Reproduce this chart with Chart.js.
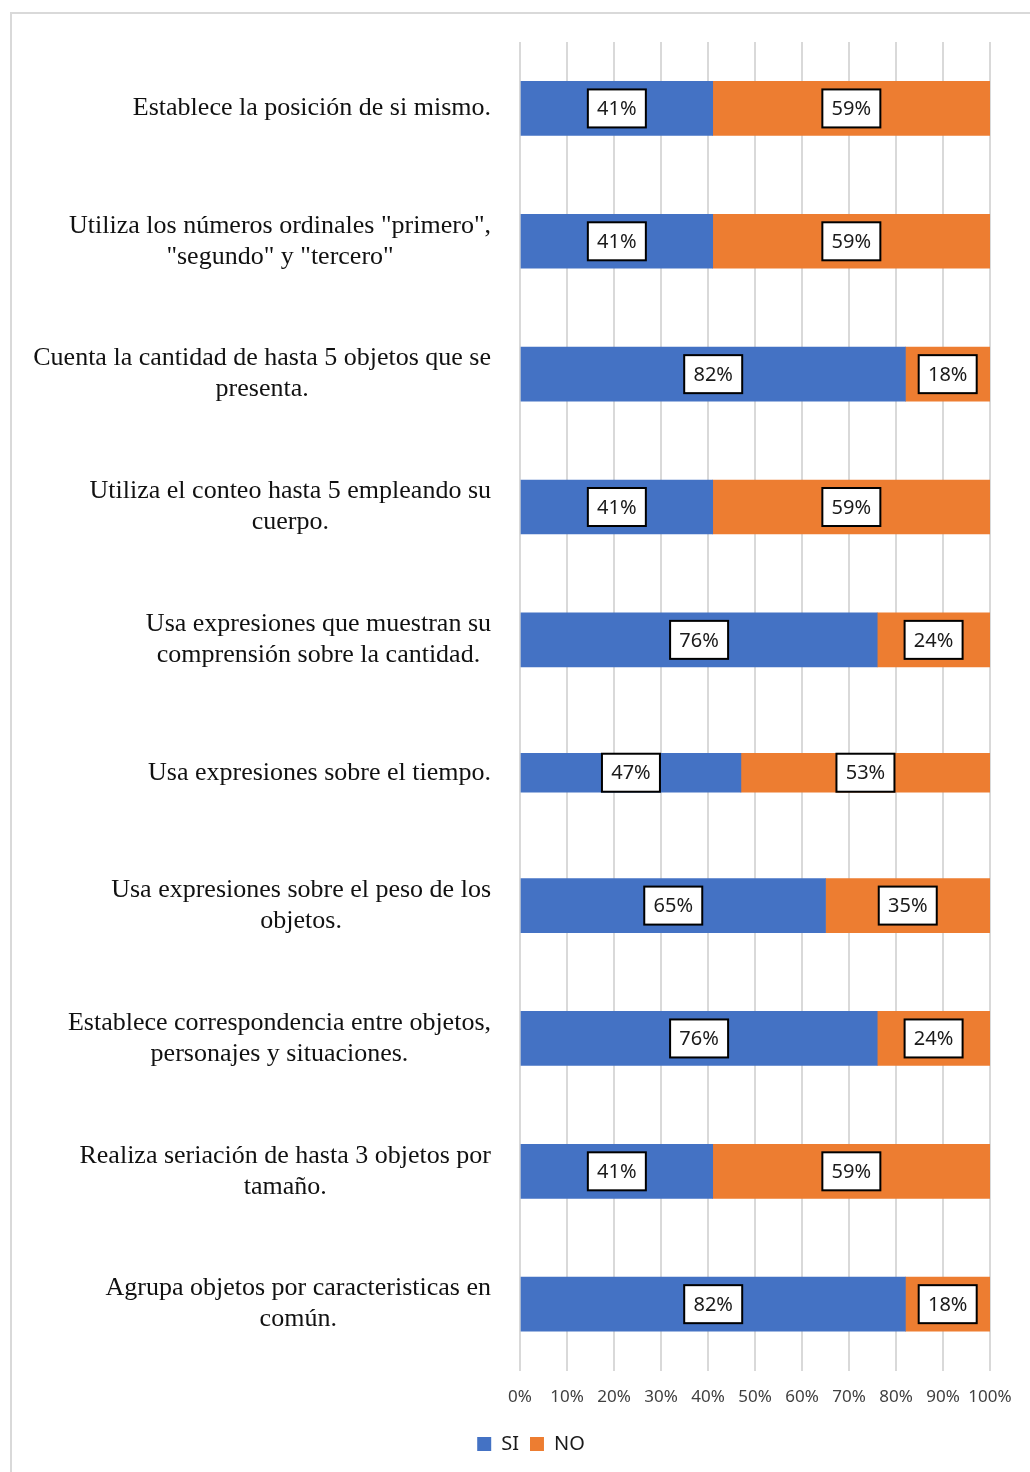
<!DOCTYPE html>
<html>
<head>
<meta charset="utf-8">
<script src="https://cdn.jsdelivr.net/npm/chart.js@4"></script>
<style>
  body { margin: 0; background: #fff; }
  #marco { position: absolute; left: 10px; top: 12px; width: 1030px; height: 1470px;
           border-left: 2px solid #d9d9d9; border-top: 2px solid #d9d9d9; }
  #grafico { position: absolute; left: 0; top: 0; }
</style>
</head>
<body>
<div id="marco"></div>
<canvas id="grafico" width="1030" height="1472"></canvas>
<script>
// ===== datos =====
var categorias = [
  ["Establece la posición de si mismo."],
  ["Utiliza los números ordinales \"primero\",", "\"segundo\" y \"tercero\""],
  ["Cuenta la cantidad de hasta 5 objetos que se", "presenta."],
  ["Utiliza el conteo hasta 5 empleando su", "cuerpo."],
  ["Usa expresiones que muestran su", "comprensión sobre la cantidad."],
  ["Usa expresiones sobre el tiempo."],
  ["Usa expresiones sobre el peso de los", "objetos."],
  ["Establece correspondencia entre objetos,", "personajes y situaciones."],
  ["Realiza seriación de hasta 3 objetos por", "tamaño."],
  ["Agrupa objetos por caracteristicas en", "común."]
];
var valoresSi = [41, 41, 82, 41, 76, 47, 65, 76, 41, 82];
var valoresNo = [59, 59, 18, 59, 24, 53, 35, 24, 59, 18];
var ticksX = [0, 10, 20, 30, 40, 50, 60, 70, 80, 90, 100];

// ===== etiquetas del eje y (centradas por linea, bloque alineado a la derecha) =====
var etiquetasY = {
  id: "etiquetasY",
  afterDraw: function(chart) {
    var ctx = chart.ctx;
    var y = chart.scales.y;
    ctx.save();
    ctx.font = '26px "Liberation Serif"';
    ctx.fillStyle = "#111";
    ctx.textAlign = "center";
    ctx.textBaseline = "middle";
    categorias.forEach(function(lineas, i) {
      var maxW = 0;
      lineas.forEach(function(l) { maxW = Math.max(maxW, ctx.measureText(l).width); });
      var cx = 491 - maxW / 2;
      var cy = y.getPixelForValue(i);
      var y0 = cy - (lineas.length - 1) * 31 / 2;
      lineas.forEach(function(l, k) { ctx.fillText(l, cx, y0 + k * 31); });
    });
    ctx.restore();
  }
};

// la barra "tiempo" es mas delgada en el original
var barraDelgada = {
  id: "barraDelgada",
  beforeDatasetsDraw: function(chart) {
    chart.data.datasets.forEach(function(ds, d) {
      var el = chart.getDatasetMeta(d).data[5];
      if (el) el.height = 39;
    });
  }
};

// ===== cajas con porcentaje =====
var cajas = {
  id: "cajas",
  afterDatasetsDraw: function(chart) {
    var ctx = chart.ctx;
    ctx.save();
    ctx.font = '20px "Noto Sans"';
    ctx.textAlign = "center";
    ctx.textBaseline = "middle";
    chart.data.datasets.forEach(function(ds, d) {
      chart.getDatasetMeta(d).data.forEach(function(el, i) {
        var p = el.getProps(["x", "y", "base"], true);
        var cx = (p.x + p.base) / 2;
        var txt = ds.data[i] + "%";
        var w = 58, h = 38;
        ctx.fillStyle = "#fff";
        ctx.fillRect(cx - w / 2, p.y - h / 2, w, h);
        ctx.strokeStyle = "#000";
        ctx.lineWidth = 2;
        ctx.strokeRect(cx - w / 2, p.y - h / 2, w, h);
        ctx.fillStyle = "#1a1a1a";
        ctx.fillText(txt, cx, p.y + 1);
      });
    });
    ctx.restore();
  }
};

new Chart(document.getElementById("grafico"), {
  type: "bar",
  data: {
    labels: categorias.map(function(c) { return c.join(" "); }),
    datasets: [
      { label: "SI", data: valoresSi, backgroundColor: "#4472C4", barThickness: 54 },
      { label: "NO", data: valoresNo, backgroundColor: "#ED7D31", barThickness: 54 }
    ]
  },
  options: {
    indexAxis: "y",
    responsive: false,
    animation: false,
    layout: { padding: { left: 72, right: 40, top: 42, bottom: 8 } },
    scales: {
      x: {
        stacked: true,
        min: 0,
        max: 100,
        afterBuildTicks: function(s) { s.ticks = ticksX.map(function(v) { return { value: v }; }); },
        grid: { color: "#d9d9d9", lineWidth: 2, drawTicks: false },
        border: { display: false },
        ticks: {
          padding: 16,
          color: "#404040",
          font: { family: "Noto Sans", size: 17 },
          maxRotation: 0,
          autoSkip: false,
          callback: function(v) { return v + "%"; }
        }
      },
      y: {
        stacked: true,
        grid: { display: false },
        border: { display: false },
        ticks: { display: false },
        afterFit: function(s) { s.width = 448; }
      }
    },
    plugins: {
      legend: {
        position: "bottom",
        labels: {
          boxWidth: 14,
          boxHeight: 14,
          padding: 11,
          color: "#1a1a1a",
          font: { family: "Noto Sans", size: 20 }
        }
      },
      tooltip: { enabled: false }
    }
  },
  plugins: [barraDelgada, cajas, etiquetasY]
});
</script>
</body>
</html>
